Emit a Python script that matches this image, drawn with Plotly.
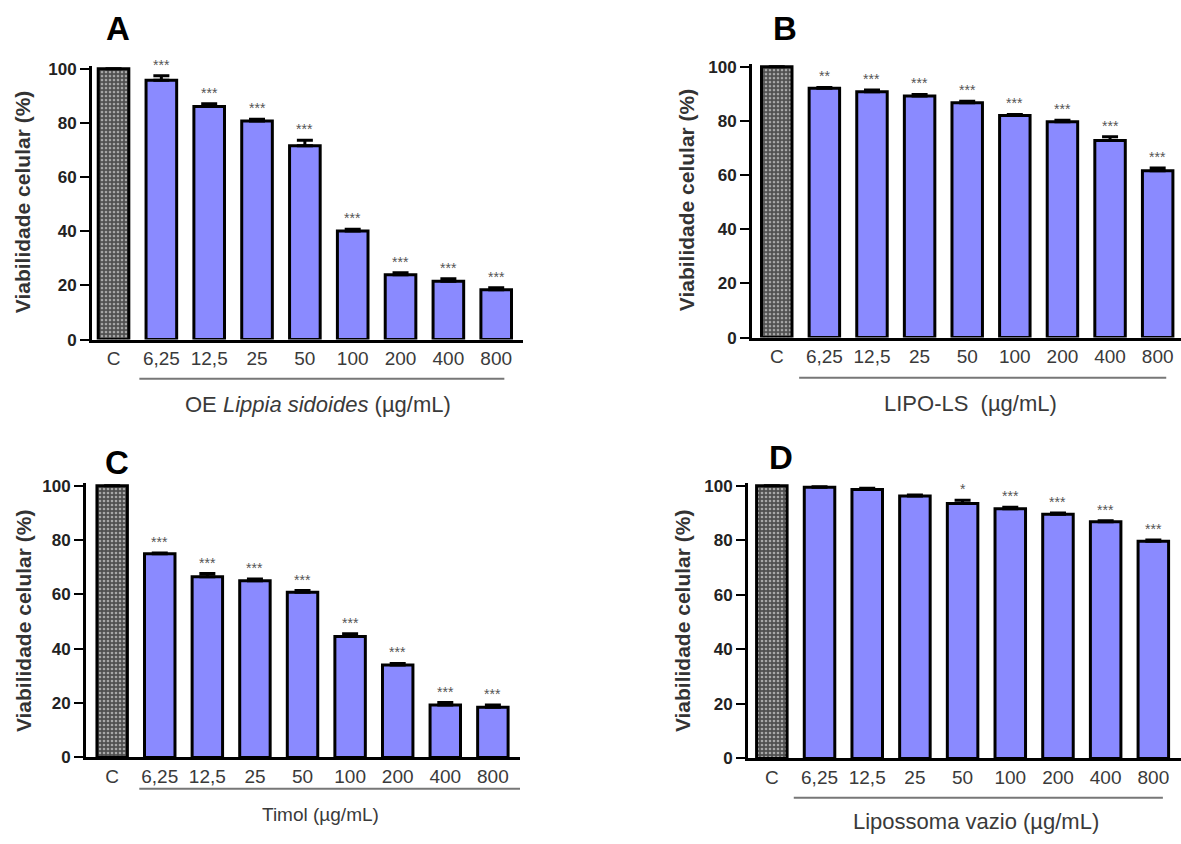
import plotly.graph_objects as go

W, H = 1181, 844

categories = ["C", "6,25", "12,5", "25", "50", "100", "200", "400", "800"]

vals_A = [100, 95.8, 86.1, 80.7, 71.6, 40.1, 23.9, 21.5, 18.4]
err_A = [0, 1.6, 1.0, 0.7, 2.0, 0.6, 0.8, 1.0, 0.7]
sig_A = ["", "***", "***", "***", "***", "***", "***", "***", "***"]

vals_B = [100, 92.1, 90.8, 89.2, 86.7, 82.0, 79.7, 72.8, 61.6]
err_B = [0, 0.3, 0.6, 0.6, 0.6, 0.4, 0.6, 1.4, 1.0]
sig_B = ["", "**", "***", "***", "***", "***", "***", "***", "***"]

vals_C = [100, 75.0, 66.5, 65.0, 60.8, 44.5, 34.0, 19.3, 18.5]
err_C = [0, 0.2, 1.2, 0.7, 0.6, 1.0, 0.6, 0.9, 0.8]
sig_C = ["", "***", "***", "***", "***", "***", "***", "***", "***"]

vals_D = [100, 99.4, 98.6, 96.2, 93.5, 91.6, 89.5, 86.8, 79.6]
err_D = [0, 0.2, 0.5, 0.4, 1.2, 0.5, 0.5, 0.4, 0.5]
sig_D = ["", "", "", "", "*", "***", "***", "***", "***"]

y_ticks = [0, 20, 40, 60, 80, 100]
y_title = "Viabilidade celular (%)"
x_titles = ["OE <i>Lippia sidoides</i> (µg/mL)", "LIPO-LS  (µg/mL)",
            "Timol (µg/mL)", "Lipossoma vazio (µg/mL)"]
letters = ["A", "B", "C", "D"]

FONT = "Liberation Sans, Arial, sans-serif"
BAR = "#8a8aff"
YMAX = 101

panels = [
    dict(xl=92, xr=523, y0=340, y100=64, xr_rng=[-0.45, 8.56],
         ul=(0.54, 8.17, 380), tt=(318, 406, 22), let=(118, 23), yt=(22, 200)),
    dict(xl=752, xr=1181, y0=338, y100=62, xr_rng=[-0.52, 8.49],
         ul=(0.47, 8.18, 379), tt=(970, 405, 22), let=(785, 23), yt=(686, 198)),
    dict(xl=86, xr=520, y0=766, y100=489, xr_rng=[-0.55, 8.57],
         ul=(0.57, 8.60, 798), tt=(320, 824, 19), let=(117, 465), yt=(23, 627)),
    dict(xl=748, xr=1181, y0=767, y100=489, xr_rng=[-0.5, 8.58],
         ul=(0.46, 8.20, 807), tt=(976, 831, 22), let=(781, 460), yt=(682, 627)),
]

data = [(vals_A, err_A, sig_A), (vals_B, err_B, sig_B),
        (vals_C, err_C, sig_C), (vals_D, err_D, sig_D)]

fig = go.Figure()
annotations = []
shapes = []
layout_axes = {}

for i, (p, (vals, errs, sigs)) in enumerate(zip(panels, data)):
    n = i + 1
    xa = "x" if n == 1 else f"x{n}"
    ya = "y" if n == 1 else f"y{n}"
    colors = ["#505050"] + [BAR] * (len(categories) - 1)
    shapes_pat = ["."] + [""] * (len(categories) - 1)
    fig.add_trace(go.Bar(
        x=categories, y=vals, xaxis=xa, yaxis=ya, width=0.64,
        marker=dict(color=colors, line=dict(color="black", width=3),
                    pattern=dict(shape=shapes_pat, fillmode="overlay",
                                 fgcolor="#d4d4d4", size=4, solidity=0.35)),
        error_y=dict(type="data", symmetric=False, array=errs,
                     arrayminus=[0] * len(errs), color="black",
                     thickness=3, width=8),
        showlegend=False,
    ))
    px_per = (p["y0"] - p["y100"]) / 100.0
    top_px = p["y0"] - YMAX * px_per
    xdom = [p["xl"] / W, min(p["xr"] / W, 1.0)]
    ydom = [1 - p["y0"] / H, 1 - top_px / H]
    layout_axes[f"xaxis{'' if n == 1 else n}"] = dict(
        domain=xdom, range=p["xr_rng"], type="category",
        showline=True, linecolor="black", linewidth=3,
        ticks="",
        tickfont=dict(family=FONT, size=19, color="#3a3a3a"),
        showgrid=False, zeroline=False, anchor=ya, fixedrange=True,
    )
    layout_axes[f"yaxis{'' if n == 1 else n}"] = dict(
        domain=ydom, range=[0, YMAX], tickvals=y_ticks,
        showline=True, linecolor="black", linewidth=3,
        ticks="outside", ticklen=9, tickwidth=2, tickcolor="black",
        tickfont=dict(family=FONT, size=17, color="#222", weight="bold"),
        showgrid=False, zeroline=False, anchor=xa,
    )
    for j, (v, e, s) in enumerate(zip(vals, errs, sigs)):
        if s:
            annotations.append(dict(
                x=j, y=v + e, xref=xa, yref=ya, text=s, showarrow=False,
                xanchor="center", yanchor="bottom", yshift=1,
                font=dict(family=FONT, size=14, color="#555")))
    x0u, x1u, yu = p["ul"]
    shapes.append(dict(type="line", xref=xa, yref="paper",
                       x0=x0u, x1=x1u, y0=1 - yu / H, y1=1 - yu / H,
                       line=dict(color="#777", width=2)))
    tx, ty, ts = p["tt"]
    annotations.append(dict(x=tx / W, y=1 - ty / H, xref="paper", yref="paper",
                            text=x_titles[i], showarrow=False,
                            xanchor="center", yanchor="middle",
                            font=dict(family=FONT, size=ts, color="#3a3a3a")))
    lx, ly = p["let"]
    annotations.append(dict(x=lx / W, y=1 - ly / H, xref="paper", yref="paper",
                            text=f"<b>{letters[i]}</b>", showarrow=False,
                            xanchor="center", yanchor="middle",
                            font=dict(family=FONT, size=33, color="black")))
    yx, yy = p["yt"]
    annotations.append(dict(x=yx / W, y=1 - yy / H, xref="paper", yref="paper",
                            text=f"<b>{y_title}</b>", showarrow=False,
                            textangle=-90, xanchor="center", yanchor="middle",
                            font=dict(family=FONT, size=21, color="#333")))

fig.update_layout(
    width=W, height=H, margin=dict(l=0, r=0, t=0, b=0),
    paper_bgcolor="white", plot_bgcolor="white",
    bargap=0.3, annotations=annotations, shapes=shapes,
    **layout_axes,
)

fig.write_html("out.html", config={"displayModeBar": False},
               post_script="document.body.style.margin='0px';")
